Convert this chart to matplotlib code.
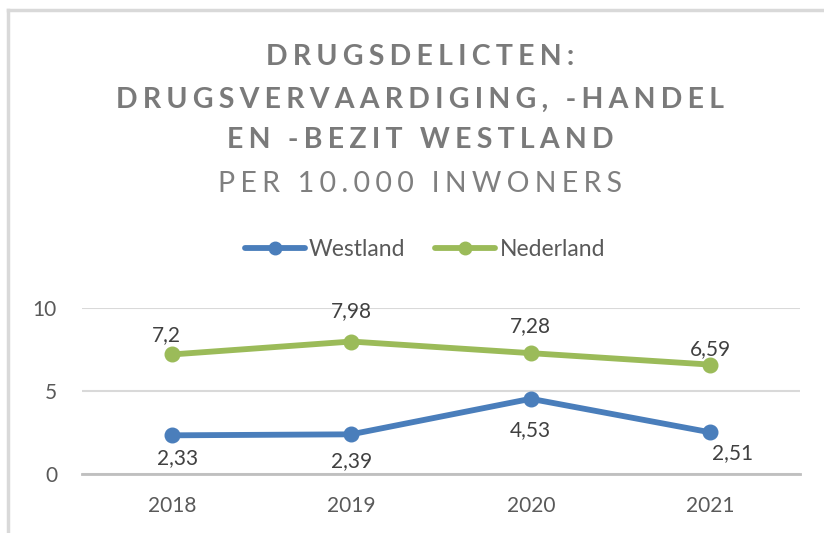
import matplotlib
matplotlib.use("Agg")
import matplotlib.pyplot as plt
from matplotlib.lines import Line2D

years = ["2018", "2019", "2020", "2021"]
westland = [2.33, 2.39, 4.53, 2.51]
nederland = [7.2, 7.98, 7.28, 6.59]
westland_labels = ["2,33", "2,39", "4,53", "2,51"]
nederland_labels = ["7,2", "7,98", "7,28", "6,59"]
yticks = [0, 5, 10]

# label placement (pixels, styling only)
ned_off = [(-5, 19), (0, 30), (0, 27), (0, 16)]
wes_off = [(6, -23), (0, -27), (0, -31), (22, -21)]

blue = "#4A7EBB"
green = "#9BBB59"
grey = "#595959"
FAM = ["Lato", "DejaVu Sans"]

W, H = 824, 533
fig = plt.figure(figsize=(W/100, H/100), dpi=100)
plt.rcParams['font.family'] = FAM

# frame (partially visible)
fig.add_artist(Line2D([8/W, 1], [1-10/H, 1-10/H], color="#d9d9d9", lw=2.5, transform=fig.transFigure))
fig.add_artist(Line2D([8/W, 8/W], [0, 1-10/H], color="#d9d9d9", lw=2.5, transform=fig.transFigure))

def spaced(s, n=1):
    return ("\u200a" * n).join(s)

title_lines = ["DRUGSDELICTEN:", "DRUGSVERVAARDIGING, -HANDEL", "EN -BEZIT WESTLAND"]
ys = [57, 100, 140]
for t, y in zip(title_lines, ys):
    fig.text(420/W, 1-y/H, spaced(t, 3), ha="center", va="center", fontsize=20.5,
             fontweight="bold", color="#7a7a7a", family=FAM)
fig.text(420/W, 1-184/H, spaced("PER 10.000 INWONERS", 3), ha="center", va="center",
         fontsize=20.5, color="#7f7f7f", family=FAM)

ax = fig.add_axes([82/W, 1-474/H, (800-82)/W, (474-308)/H])
x = list(range(len(years)))
ax.plot(x, westland, color=blue, lw=4.2, marker="o", ms=10.5, solid_capstyle="round", label="Westland", zorder=3)
ax.plot(x, nederland, color=green, lw=4.2, marker="o", ms=10.5, solid_capstyle="round", label="Nederland", zorder=3)
ax.set_xlim(-0.5, 3.5)
ax.set_ylim(0, 10)
ax.set_yticks(yticks)
ax.set_xticks(x)
ax.set_xticklabels(years)
ax.tick_params(axis="both", length=0, labelsize=15, labelcolor=grey)
ax.tick_params(axis="y", pad=18)
ax.tick_params(axis="x", pad=16)
for s in ["top", "right", "left"]:
    ax.spines[s].set_visible(False)
ax.spines["bottom"].set_color("#bfbfbf")
ax.spines["bottom"].set_linewidth(2)
ax.grid(axis="y", color="#d9d9d9", lw=1.5)
ax.set_axisbelow(True)

px = 72 / 100  # pixels -> points
for i in x:
    dx, dy = ned_off[i]
    ax.annotate(nederland_labels[i], (i, nederland[i]), xytext=(dx*px, dy*px), textcoords="offset points",
                ha="center", va="center", fontsize=15, color="#404040")
    dx, dy = wes_off[i]
    ax.annotate(westland_labels[i], (i, westland[i]), xytext=(dx*px, dy*px), textcoords="offset points",
                ha="center", va="center", fontsize=15, color="#404040")

leg = fig.legend(handles=ax.get_lines(), loc="center", bbox_to_anchor=(425/W, 1-250/H), ncol=2,
                 frameon=False, fontsize=16.5, handlelength=2.6, handletextpad=0.2, columnspacing=1.3)
for t in leg.get_texts():
    t.set_color(grey)
for h in leg.legend_handles:
    h.set_markersize(9)

fig.savefig("out.png", dpi=100)
